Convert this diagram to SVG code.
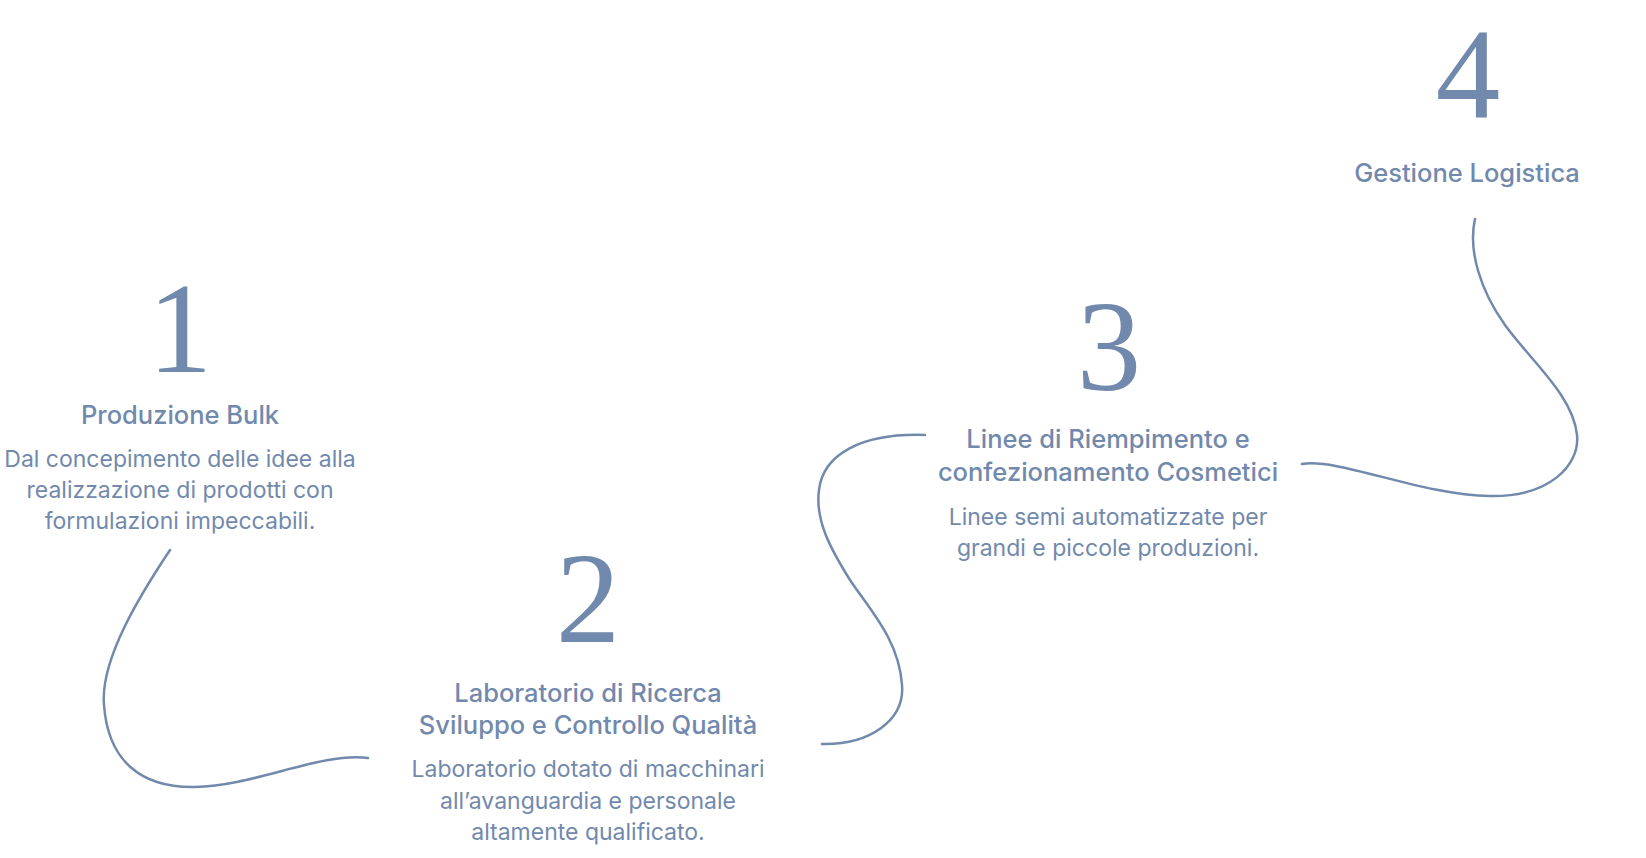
<svg xmlns="http://www.w3.org/2000/svg" width="1646" height="858" viewBox="0 0 1646 858">
<style>
.num{font-family:"Liberation Serif","DejaVu Serif",serif;font-size:129px;fill:#7089ac;text-anchor:middle}
.title{font-family:Inter,"Liberation Sans",sans-serif;font-size:25.5px;font-weight:500;fill:#7189ac;text-anchor:middle}
.desc{font-family:Inter,"Liberation Sans",sans-serif;font-size:23px;font-weight:400;fill:#7189ac;text-anchor:middle}
.conn{fill:none;stroke:#7189ac;stroke-width:2.5;stroke-linecap:round}
</style>
<rect width="1646" height="858" fill="#ffffff"/>
<g id="connectors">
<path class="conn" d="M170,550 C 140,595 100,660 104,705 C 108,760 140,788 195,787 C 255,786 320,752 368,758"/>
<path class="conn" d="M822,744 C 870,745 905,720 902,685 C 899,640 870,610 850,580 C 830,548 815,520 819,490 C 823,455 860,433 925,435"/>
<path class="conn" d="M1302,464 C 1340,458 1420,495 1490,496 C 1550,497 1580,465 1577,435 C 1573,395 1530,360 1505,325 C 1480,290 1468,250 1475,219"/>
</g>
<g id="node1">
<text class="num" x="180" y="372">1</text>
<text class="title" x="180" y="424">Produzione Bulk</text>
<text class="desc" x="180" y="467">Dal concepimento delle idee alla</text>
<text class="desc" x="180" y="498">realizzazione di prodotti con</text>
<text class="desc" x="180" y="529">formulazioni impeccabili.</text>
</g>
<g id="node2">
<text class="num" x="588" y="642">2</text>
<text class="title" x="588" y="702">Laboratorio di Ricerca</text>
<text class="title" x="588" y="734">Sviluppo e Controllo Qualità</text>
<text class="desc" x="588" y="777">Laboratorio dotato di macchinari</text>
<text class="desc" x="588" y="809">all’avanguardia e personale</text>
<text class="desc" x="588" y="840">altamente qualificato.</text>
</g>
<g id="node3">
<text class="num" x="1109" y="390">3</text>
<text class="title" x="1108" y="448">Linee di Riempimento e</text>
<text class="title" x="1108" y="481">confezionamento Cosmetici</text>
<text class="desc" x="1108" y="525">Linee semi automatizzate per</text>
<text class="desc" x="1108" y="556">grandi e piccole produzioni.</text>
</g>
<g id="node4">
<text class="num" x="1468" y="118">4</text>
<text class="title" x="1467" y="182">Gestione Logistica</text>
</g>
</svg>
